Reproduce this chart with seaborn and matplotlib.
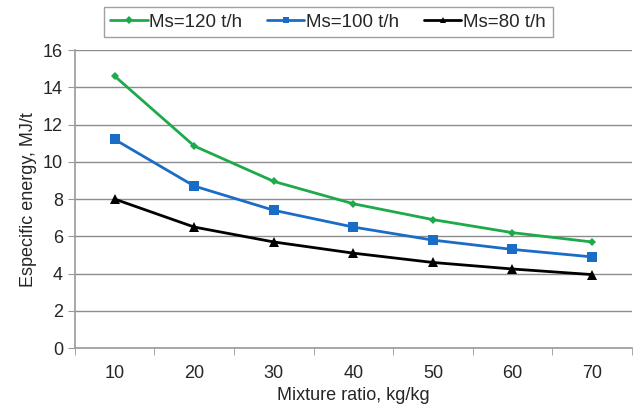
import numpy as np
import pandas as pd
import matplotlib
matplotlib.use("Agg")
import matplotlib.pyplot as plt
import seaborn as sns

ratios = [10, 20, 30, 40, 50, 60, 70]
ms120 = [14.6, 10.85, 8.95, 7.75, 6.9, 6.2, 5.7]
ms100 = [11.2, 8.7, 7.4, 6.5, 5.8, 5.3, 4.9]
ms80 = [8.0, 6.5, 5.7, 5.1, 4.6, 4.25, 3.95]
labels = ["Ms=120 t/h", "Ms=100 t/h", "Ms=80 t/h"]

sns.set_style("white")
plt.rcParams["font.family"] = ["Liberation Sans", "DejaVu Sans"]

df = pd.DataFrame({"pos": list(range(len(ratios))) * 3,
                   "val": ms120 + ms100 + ms80,
                   "serie": sum([[l] * len(ratios) for l in labels], [])})

fig = plt.figure(figsize=(6.35, 4.17), dpi=100)
ax = fig.add_axes([0.118, 0.165, 0.877, 0.715])

sns.lineplot(data=df, x="pos", y="val", hue="serie", style="serie",
             palette=["#1DAA4B", "#1A6DC6", "#000000"],
             markers=["D", "s", "^"], dashes=False, linewidth=2,
             markersize=6, markeredgewidth=0, ax=ax, legend=True)
# diamond looks smaller in reference
for line, ms in zip(ax.lines[:3], [4.5, 7, 7]):
    line.set_markersize(ms)

ax.set_xlim(-0.5, 6.5)
ax.set_ylim(0, 16)
ax.set_yticks(np.arange(0, 17, 2))
ax.set_xticks(range(len(ratios)))
ax.set_xticklabels(ratios)
ax.set_xticks(np.arange(-0.5, 7, 1), minor=True)
ax.tick_params(axis="x", which="major", length=0, labelsize=13, pad=12)
ax.tick_params(axis="x", which="minor", length=5, color="#999999", direction="out", bottom=True)
ax.tick_params(axis="y", length=5, color="#999999", labelsize=13, left=True, direction="out")
ax.yaxis.grid(True, color="#8c8c8c", linewidth=1)
ax.set_axisbelow(True)
for s in ["top", "right"]:
    ax.spines[s].set_visible(False)
for s in ["left", "bottom"]:
    ax.spines[s].set_color("#999999")
    ax.spines[s].set_linewidth(1.2)

ax.set_xlabel("Mixture ratio, kg/kg", fontsize=13, labelpad=4)
ax.set_ylabel("Especific energy, MJ/t", fontsize=13)

handles, labs = ax.get_legend_handles_labels()
ax.get_legend().remove()
leg = fig.legend(handles, labs, loc="upper center", ncol=3,
                 bbox_to_anchor=(328 / 635, 1 - 7 / 417), fontsize=13.5,
                 frameon=True, fancybox=False, edgecolor="#888888",
                 handlelength=2.0, handletextpad=0.1, columnspacing=1.3,
                 borderpad=0.35, borderaxespad=0)
for h in leg.legend_handles:
    h.set_markersize(4)

fig.savefig("out.png", dpi=100)
